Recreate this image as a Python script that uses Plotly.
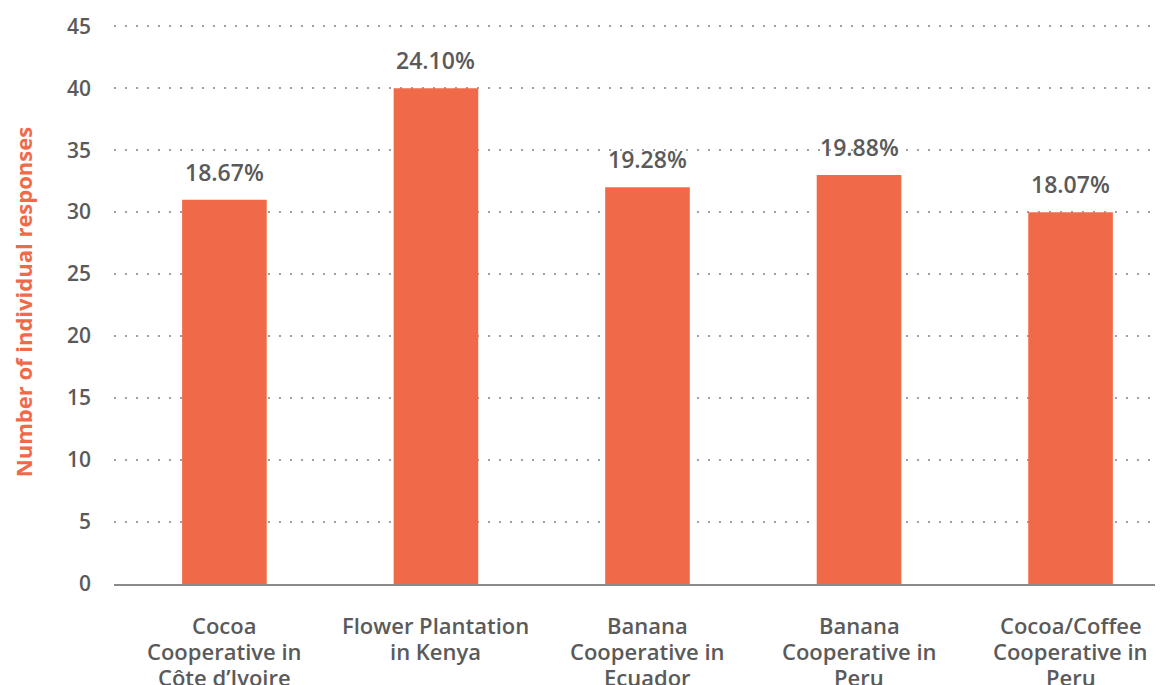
import plotly.graph_objects as go

categories = [
    ["Cocoa", "Cooperative in", "Côte d’Ivoire"],
    ["Flower Plantation", "in Kenya"],
    ["Banana", "Cooperative in", "Ecuador"],
    ["Banana", "Cooperative in", "Peru"],
    ["Cocoa/Coffee", "Cooperative in", "Peru"],
]
responses = [31, 40, 32, 33, 30]
percent_labels = ["18.67%", "24.10%", "19.28%", "19.88%", "18.07%"]
y_ticks = [0, 5, 10, 15, 20, 25, 30, 35, 40, 45]

BAR = "#F06A4A"
TXT = "#5a5a5a"
FONT = "Open Sans"

x_idx = list(range(len(categories)))

fig = go.Figure()
fig.add_trace(go.Bar(
    x=x_idx, y=responses, marker=dict(color=BAR, line=dict(width=0)),
    width=0.40, hoverinfo="skip",
))

for i, v, t in zip(x_idx, responses, percent_labels):
    fig.add_annotation(x=i, y=v, text=t, showarrow=False, yanchor="bottom",
                       yshift=10, font=dict(family=FONT, size=23, color=TXT, weight=600))

# category labels, one annotation per line for tight line spacing
for i, lines in zip(x_idx, categories):
    for k, line in enumerate(lines):
        fig.add_annotation(x=i, y=0, text=line, showarrow=False, yanchor="middle",
                           xanchor="center", yshift=-(41 + 26 * k),
                           font=dict(family=FONT, size=22, color=TXT, weight=600))

fig.update_layout(
    width=1155, height=677,
    margin=dict(l=106, r=0, t=12, b=101),
    paper_bgcolor="white", plot_bgcolor="white",
    showlegend=False,
    font=dict(family=FONT, color=TXT),
)
fig.update_xaxes(
    tickmode="array", tickvals=x_idx, showticklabels=False,
    range=[-0.522, 4.437],
    showgrid=False, zeroline=False,
    showline=True, linecolor="#8a8a8a", linewidth=2,
    ticks="",
)
fig.update_yaxes(
    range=[0, 45.5], tickmode="array", tickvals=y_ticks,
    showgrid=True, gridcolor="#a0a0a0", gridwidth=1.5, griddash="2px,9px",
    zeroline=False, showline=False, ticks="", ticklabelstandoff=22,
    tickfont=dict(family=FONT, size=21, color=TXT, weight=600),
    title=dict(text="Number of individual responses", standoff=30,
               font=dict(family=FONT, size=22, color=BAR, weight=700)),
)

fig.write_html("out.html")
